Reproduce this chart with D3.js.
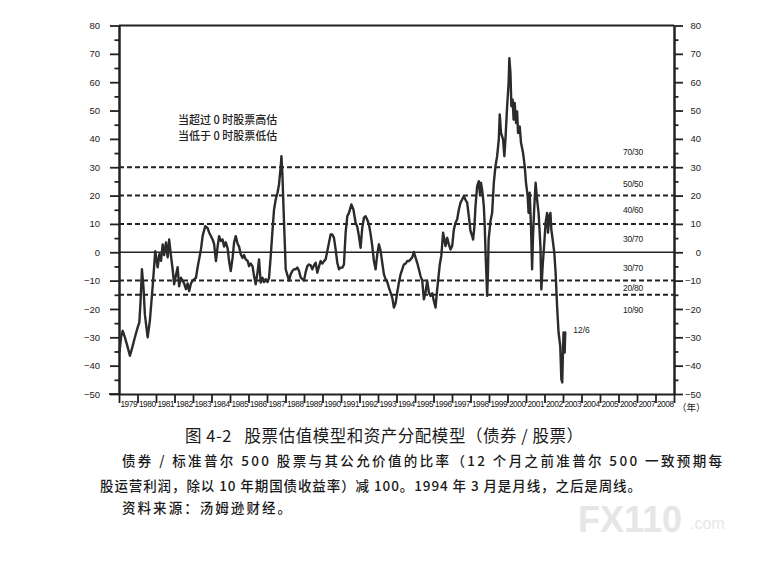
<!DOCTYPE html>
<html><head><meta charset="utf-8">
<script src="https://cdn.jsdelivr.net/npm/d3@7"></script>
<style>body{margin:0;background:#fff} svg{display:block} text{white-space:pre}</style>
</head><body><svg id="c" width="764" height="564"></svg>
<script>
// ---- data ----
const years = [1979.03,1979.11,1979.20,1979.32,1979.49,1979.59,1979.70,1979.86,1980.01,1980.10,1980.16,1980.24,1980.32,1980.40,1980.55,1980.67,1980.82,1980.96,1981.09,1981.18,1981.27,1981.36,1981.44,1981.54,1981.63,1981.71,1981.81,1981.90,1981.98,1982.08,1982.17,1982.25,1982.35,1982.44,1982.52,1982.62,1982.71,1982.79,1982.89,1982.98,1983.16,1983.25,1983.33,1983.43,1983.52,1983.66,1983.79,1983.87,1984.06,1984.14,1984.24,1984.33,1984.41,1984.50,1984.60,1984.68,1984.77,1984.87,1984.95,1985.04,1985.14,1985.22,1985.31,1985.41,1985.49,1985.58,1985.68,1985.76,1985.85,1985.95,1986.03,1986.12,1986.22,1986.30,1986.39,1986.49,1986.57,1986.66,1986.76,1986.84,1986.93,1987.03,1987.11,1987.20,1987.30,1987.38,1987.47,1987.57,1987.65,1987.74,1987.78,1987.83,1987.92,1987.98,1988.01,1988.10,1988.19,1988.28,1988.37,1988.46,1988.55,1988.64,1988.73,1988.82,1989.00,1989.09,1989.18,1989.27,1989.36,1989.45,1989.54,1989.63,1989.72,1989.81,1989.90,1989.99,1990.08,1990.17,1990.26,1990.35,1990.44,1990.53,1990.62,1990.71,1990.80,1990.89,1990.98,1991.07,1991.16,1991.25,1991.34,1991.43,1991.56,1991.67,1991.79,1991.88,1991.97,1992.06,1992.15,1992.24,1992.33,1992.42,1992.51,1992.60,1992.69,1992.78,1992.87,1992.96,1993.05,1993.14,1993.23,1993.32,1993.41,1993.50,1993.59,1993.68,1993.77,1993.86,1993.95,1994.04,1994.13,1994.22,1994.31,1994.40,1994.49,1994.58,1994.67,1994.76,1994.85,1994.94,1995.03,1995.12,1995.21,1995.30,1995.39,1995.48,1995.57,1995.66,1995.75,1995.84,1995.93,1996.02,1996.11,1996.20,1996.25,1996.34,1996.42,1996.47,1996.52,1996.65,1996.74,1996.83,1996.92,1997.01,1997.10,1997.19,1997.28,1997.37,1997.46,1997.55,1997.64,1997.73,1997.82,1997.91,1998.00,1998.08,1998.14,1998.21,1998.27,1998.36,1998.45,1998.51,1998.57,1998.65,1998.72,1998.77,1998.82,1998.90,1998.94,1998.98,1999.08,1999.17,1999.26,1999.35,1999.44,1999.53,1999.58,1999.65,1999.76,1999.83,1999.89,1999.98,2000.06,2000.10,2000.16,2000.21,2000.28,2000.33,2000.39,2000.46,2000.52,2000.57,2000.66,2000.73,2000.84,2000.93,2001.00,2001.09,2001.14,2001.20,2001.27,2001.33,2001.38,2001.45,2001.52,2001.60,2001.68,2001.78,2001.83,2001.90,2001.99,2002.06,2002.14,2002.19,2002.26,2002.32,2002.37,2002.44,2002.53,2002.60,2002.68,2002.76,2002.85,2002.91,2002.96,2003.00,2003.03,2003.09,2003.12];
const values = [-35,-30,-27.7,-30,-34,-36.5,-34,-30,-26.5,-24.7,-18,-6,-12,-22,-30,-24,-12,0.4,-5.3,-0.7,-3,2.8,-1,3.5,-1.8,4.5,-1.3,-6,-11.3,-8,-5.3,-12,-9,-10,-11,-13,-11,-13.7,-11,-10,-9,-5.3,-2.5,1,5.7,9.2,8.5,7,4.5,3,-3.1,2,5.7,4,4.5,2,3.5,1.5,-3.1,-6.6,-2,3.4,5.7,3,2,-0.7,-2,-1,-2.5,-3,-4.9,-4,-5,-8.4,-11.3,-7,-2.5,-10.7,-9,-10.5,-9.5,-10.5,-9,-1.5,8,15,18.6,21,24,30,33.9,28,10.5,0,-6,-8,-10,-7.8,-6.6,-6,-6,-5.4,-6.5,-8.9,-10,-7,-4.9,-4.3,-4.6,-6,-4.6,-3.7,-7.2,-5,-3.1,-4,-3.1,-2.5,0.4,3.4,6.3,6.3,5.1,1,-3.7,-6,-5.4,-5.4,-4.3,6.9,12.7,13.9,16.9,15.1,10.4,9,5.7,1.6,8.7,12.2,12.7,11.5,9.8,6.5,2.2,-3.1,-6,-0.7,2.8,0.5,-3.7,-7.8,-9.5,-10.5,-12.5,-14.2,-16,-19.5,-18,-14.2,-10.7,-7.8,-6,-4.3,-4,-3.1,-3.1,-2.5,-1.8,0.1,-1.9,-3.7,-6,-8.4,-10,-16.6,-14.2,-10,-14.2,-15.4,-14.5,-17.2,-19.5,-13,-10,-4.3,-1.3,2.8,6.9,2.2,5.1,2.8,1,2.2,8,10.4,11.6,15.1,17.5,18.6,19.8,18.5,17.5,12.7,7.5,6,4.5,9,16.3,23.3,25.1,20.5,24.5,21,16.3,9.2,-1.3,-15.4,-8,4.5,11,13.9,24.5,30.4,33.9,39.8,48.6,42.1,39.8,33.9,40,51.5,59.7,68.5,63.2,51.5,53.8,46.8,52.7,45.6,49.7,42.1,44.4,38.6,35.1,30.4,24.5,19.8,13.9,21,9.2,-6,5.7,16.3,24.5,18.6,13.9,2.2,-13.1,-4.9,3.4,10.4,13.9,6.9,12.7,13.9,8,4.5,-0.1,-7.2,-19,-28.3,-33,-44.8,-45.9,-34.2,-28.3,-35.4,-28.3];
const yearLabels = d3.range(1979, 2009).map(String);
const valueTicks = d3.range(-50, 81, 10);
const allocLevels = [30, 20, 10, -10, -15];
const allocLabels = ["70/30", "50/50", "40/60", "30/70", "30/70", "20/80", "10/90"];
const allocLabelValues = [35.4, 24.1, 14.9, 4.7, -5.5, -12.6, -20.4];
const noteLines = ["当超过 0 时股票高估", "当低于 0 时股票低估"];
const endLabel = "12/6";
const yearUnit = "（年）";
const titleText = "图 4-2   股票估值模型和资产分配模型（债券 / 股票）";
const captionLines = [
  "债券 / 标准普尔 500 股票与其公允价值的比率（12 个月之前准普尔 500 一致预期每",
  "股运营利润，除以 10 年期国债收益率）减 100。1994 年 3 月是月线，之后是周线。",
  "资料来源：汤姆逊财经。"
];

// ---- drawing ----
const svg = d3.select("#c");
const L = 119, R = 674, T = 25.5, B = 394;
const x = d3.scaleLinear().domain([1979, 2009]).range([L, R]);
const y = d3.scaleLinear().domain([-50, 80]).range([B, T]);
const ink = "#222";
const sans = "'Liberation Sans', Arial, sans-serif";
const cjk = "'Noto Sans CJK SC', sans-serif";

svg.append("rect").attr("width", 764).attr("height", 564).attr("fill", "#fff");

// watermark
svg.append("text").attr("x", 578).attr("y", 532).attr("font-family", sans)
  .attr("font-weight", "bold").attr("font-size", 36).attr("fill", "#e6e6e6").text("FX110");
svg.append("text").attr("x", 690).attr("y", 529).attr("font-family", sans)
  .attr("font-size", 16).attr("fill", "#e6e6e6").text(".com");

// reference levels
svg.append("g").selectAll("line").data(allocLevels).join("line")
  .attr("x1", L).attr("x2", R).attr("y1", d => y(d)).attr("y2", d => y(d))
  .attr("stroke", ink).attr("stroke-width", 2).attr("stroke-dasharray", "5,3");
svg.append("line").attr("x1", L).attr("x2", R).attr("y1", y(0)).attr("y2", y(0))
  .attr("stroke", ink).attr("stroke-width", 1.5);
svg.append("line").attr("x1", L).attr("x2", R).attr("y1", y(80)).attr("y2", y(80))
  .attr("stroke", ink).attr("stroke-width", 2);

// axes
function styleAxis(g) {
  g.select(".domain").attr("stroke", ink).attr("stroke-width", 2);
  g.selectAll(".tick line").attr("stroke", ink).attr("stroke-width", 1.8);
  g.selectAll("text").attr("font-family", sans).attr("font-size", 9.5).attr("fill", ink);
}
const fmt = d => d < 0 ? "\u2212" + Math.abs(d) : String(d);
svg.append("g").attr("transform", `translate(${L},0)`)
  .call(d3.axisLeft(y).tickValues(valueTicks).tickSize(9).tickSizeOuter(0).tickPadding(10).tickFormat(fmt))
  .call(styleAxis);
svg.append("g").attr("transform", `translate(${L},0)`)
  .call(d3.axisLeft(y).tickValues(d3.range(-45, 80, 10)).tickSize(4.5).tickSizeOuter(0).tickFormat(""))
  .call(styleAxis);
const gr = svg.append("g").attr("transform", `translate(${R},0)`)
  .call(d3.axisRight(y).tickValues(valueTicks).tickSize(9).tickSizeOuter(0).tickFormat(fmt))
  .call(styleAxis);
gr.selectAll("text").attr("text-anchor", "end").attr("x", 27);
svg.append("g").attr("transform", `translate(${R},0)`)
  .call(d3.axisRight(y).tickValues(d3.range(-45, 80, 10)).tickSize(4.5).tickSizeOuter(0).tickFormat(""))
  .call(styleAxis);

// bottom axis
svg.append("g").attr("transform", `translate(0,${B})`)
  .call(d3.axisBottom(x).tickValues(d3.range(1979, 2010)).tickSize(9).tickSizeOuter(0).tickFormat(""))
  .call(styleAxis);
svg.append("line").attr("x1", 109).attr("x2", L).attr("y1", B).attr("y2", B).attr("stroke", ink).attr("stroke-width", 1.8);
const gb = svg.append("g").attr("transform", `translate(0,${B})`)
  .call(d3.axisBottom(x).tickValues(yearLabels.map(s => +s + 0.5)).tickSize(0).tickPadding(7.5)
    .tickFormat(d => String(Math.floor(d))));
gb.select(".domain").remove();
gb.selectAll("text").attr("font-family", sans).attr("font-size", 8.3).attr("fill", "#111").attr("letter-spacing", -0.45);
svg.append("text").attr("x", 677).attr("y", 411).attr("font-family", cjk).attr("font-size", 9.5)
  .attr("fill", ink).text(yearUnit);

// allocation labels
svg.append("g").selectAll("text").data(allocLabels).join("text")
  .attr("x", 633).attr("y", (d, i) => y(allocLabelValues[i])).attr("dy", "0.35em")
  .attr("text-anchor", "middle").attr("font-family", sans).attr("font-size", 8.5)
  .attr("fill", ink).attr("letter-spacing", -0.3).text(d => d);

// notes
svg.append("g").selectAll("text").data(noteLines).join("text")
  .attr("x", 178).attr("y", (d, i) => 123.5 + i * 16).attr("font-family", cjk)
  .attr("font-size", 11).attr("font-weight", 500).attr("fill", ink).text(d => d);

// series
const pts = years.map((yr, i) => [yr, values[i]]);
svg.append("path").datum(pts)
  .attr("fill", "none").attr("stroke", "#2b2b2b").attr("stroke-width", 2.4)
  .attr("stroke-linejoin", "round").attr("stroke-linecap", "round")
  .attr("d", d3.line().x(d => x(d[0])).y(d => y(d[1])));
const last = pts[pts.length - 1];
svg.append("text").attr("x", x(last[0]) + 8).attr("y", y(last[1]) - 2).attr("dy", "0.35em")
  .attr("font-family", sans).attr("font-size", 8.5).attr("fill", ink).text(endLabel);

// caption
svg.append("text").attr("x", 185).attr("y", 442).attr("font-family", cjk).attr("font-size", 16.5)
  .attr("fill", "#1a1a1a").attr("textLength", 398).attr("lengthAdjust", "spacing").text(titleText);
const capX = [122, 100, 122], capY = [466, 491, 513], capW = [600, 541, 169];
svg.append("g").selectAll("text").data(captionLines).join("text")
  .attr("x", (d, i) => capX[i]).attr("y", (d, i) => capY[i])
  .attr("font-family", cjk).attr("font-size", 13.5).attr("font-weight", 500).attr("fill", "#1a1a1a")
  .attr("textLength", (d, i) => capW[i]).attr("lengthAdjust", "spacing").text(d => d);
</script>
</body></html>
